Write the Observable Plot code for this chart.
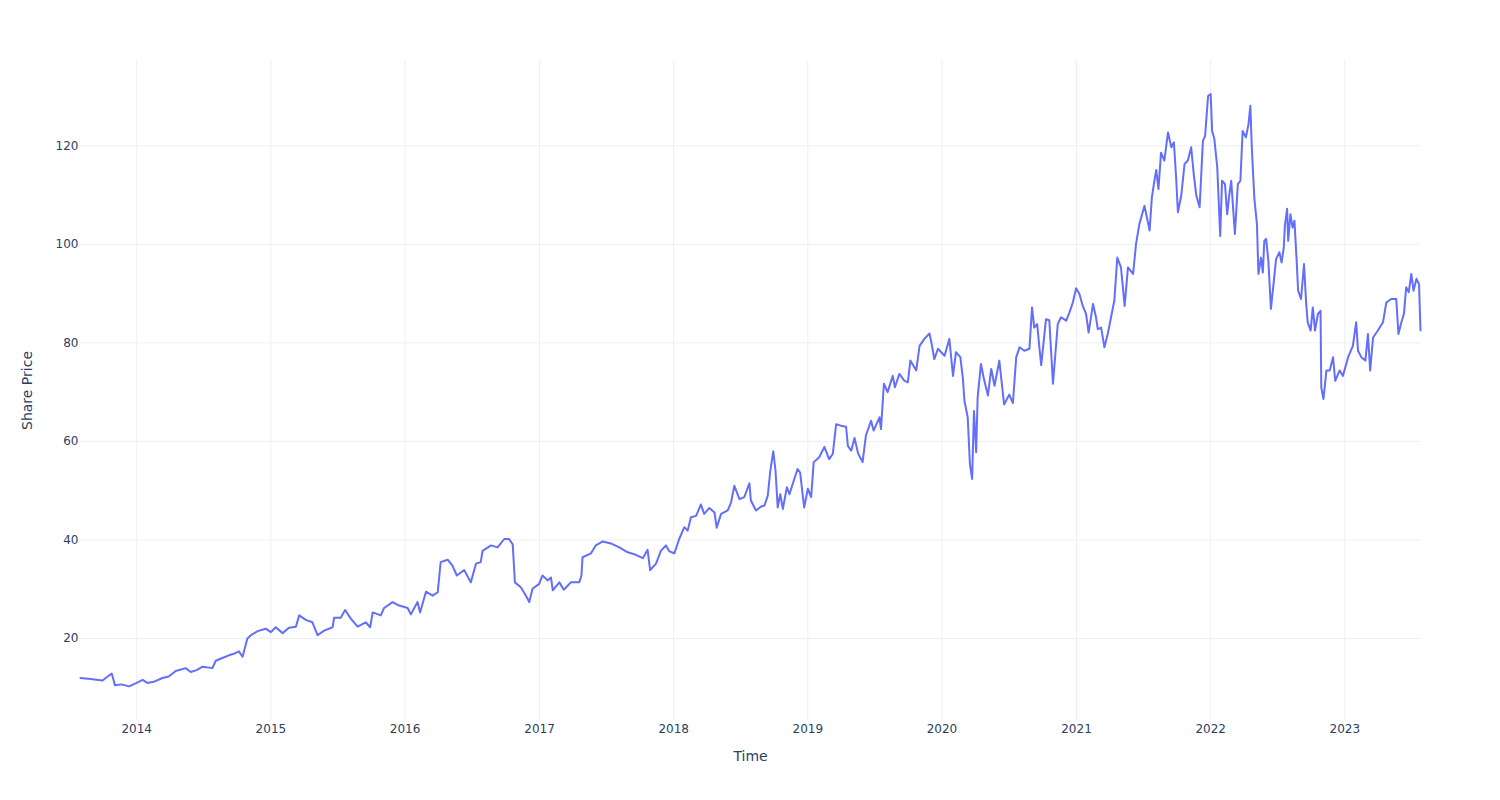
<!DOCTYPE html>
<html>
<head>
<meta charset="utf-8">
<script src="https://cdn.jsdelivr.net/npm/d3@7"></script>
<script src="https://cdn.jsdelivr.net/npm/@observablehq/plot@0.6"></script>
<style>
  html, body { margin: 0; padding: 0; background: #fff; }
  #chart { width: 1500px; height: 800px; }
</style>
</head>
<body>
<div id="chart"></div>
<script>
const dates = [
"2013-08-01","2013-08-28","2013-09-30","2013-10-14","2013-10-25","2013-11-03","2013-11-21","2013-12-11",
"2014-01-01","2014-01-17","2014-01-30","2014-02-19","2014-03-12","2014-03-29","2014-04-17","2014-05-14","2014-05-28","2014-06-13","2014-06-29","2014-07-26","2014-08-04","2014-08-20","2014-09-09","2014-09-22","2014-10-06","2014-10-16","2014-10-29","2014-11-10","2014-11-26","2014-12-18",
"2015-01-01","2015-01-14","2015-02-02","2015-02-19","2015-03-10","2015-03-19","2015-04-06","2015-04-24","2015-05-08","2015-05-26","2015-06-18","2015-06-22","2015-07-10","2015-07-22","2015-08-07","2015-08-25","2015-09-16","2015-09-28","2015-10-05","2015-10-27","2015-11-05","2015-11-28","2015-12-16",
"2016-01-08","2016-01-17","2016-02-04","2016-02-11","2016-02-27","2016-03-16","2016-03-30","2016-04-07","2016-04-26","2016-05-09","2016-05-21","2016-06-10","2016-06-28","2016-07-12","2016-07-25","2016-07-30","2016-08-22","2016-09-09","2016-09-27","2016-10-10","2016-10-20","2016-10-26","2016-11-11","2016-11-25","2016-12-04","2016-12-13","2016-12-31",
"2017-01-09","2017-01-23","2017-02-01","2017-02-06","2017-02-24","2017-03-08","2017-03-27","2017-04-19","2017-04-25","2017-04-28","2017-05-21","2017-06-03","2017-06-22","2017-07-14","2017-08-06","2017-08-29","2017-09-20","2017-10-09","2017-10-22","2017-10-29","2017-11-14","2017-11-27","2017-12-11","2017-12-20",
"2018-01-03","2018-01-16","2018-01-30","2018-02-08","2018-02-17","2018-03-03","2018-03-16","2018-03-25","2018-04-08","2018-04-22","2018-04-28","2018-05-10","2018-05-28","2018-06-06","2018-06-15","2018-06-29","2018-07-12","2018-07-26","2018-07-30","2018-08-13","2018-08-27","2018-09-05","2018-09-14","2018-09-21","2018-09-29","2018-10-05","2018-10-11","2018-10-18","2018-10-25","2018-11-05","2018-11-12","2018-11-21","2018-12-04","2018-12-11","2018-12-22",
"2019-01-01","2019-01-10","2019-01-17","2019-02-01","2019-02-15","2019-02-28","2019-03-10","2019-03-19","2019-04-01","2019-04-15","2019-04-20","2019-04-29","2019-05-08","2019-05-18","2019-05-30","2019-06-08","2019-06-22","2019-06-29","2019-07-15","2019-07-19","2019-07-27","2019-08-06","2019-08-20","2019-08-26","2019-09-07","2019-09-21","2019-09-30","2019-10-07","2019-10-23","2019-11-01","2019-11-14","2019-11-28","2019-12-05","2019-12-11","2019-12-21",
"2020-01-08","2020-01-21","2020-01-31","2020-02-08","2020-02-20","2020-02-27","2020-03-02","2020-03-11","2020-03-17","2020-03-23","2020-03-28","2020-04-03","2020-04-07","2020-04-16","2020-04-24","2020-05-05","2020-05-14","2020-05-23","2020-06-05","2020-06-18","2020-07-02","2020-07-12","2020-07-21","2020-07-30","2020-08-12","2020-08-26","2020-09-02","2020-09-08","2020-09-16","2020-09-22","2020-09-27","2020-10-10","2020-10-19","2020-10-29","2020-11-11","2020-11-20","2020-12-04","2020-12-13","2020-12-22","2020-12-31",
"2021-01-09","2021-01-18","2021-01-27","2021-02-03","2021-02-15","2021-02-23","2021-02-28","2021-03-09","2021-03-18","2021-03-27","2021-04-05","2021-04-14","2021-04-22","2021-05-02","2021-05-12","2021-05-21","2021-06-04","2021-06-12","2021-06-21","2021-07-05","2021-07-19","2021-07-25","2021-08-01","2021-08-06","2021-08-12","2021-08-19","2021-08-28","2021-09-07","2021-09-16","2021-09-23","2021-09-29","2021-10-04","2021-10-13","2021-10-22","2021-10-31","2021-11-09","2021-11-16","2021-11-23","2021-12-02","2021-12-11","2021-12-17","2021-12-25",
"2022-01-01","2022-01-05","2022-01-11","2022-01-19","2022-01-27","2022-02-01","2022-02-09","2022-02-15","2022-02-21","2022-02-26","2022-03-08","2022-03-16","2022-03-23","2022-03-29","2022-04-07","2022-04-14","2022-04-19","2022-04-23","2022-04-30","2022-05-07","2022-05-11","2022-05-18","2022-05-23","2022-05-27","2022-06-01","2022-06-07","2022-06-14","2022-06-22","2022-06-28","2022-07-07","2022-07-13","2022-07-19","2022-07-22","2022-07-28","2022-07-31","2022-08-06","2022-08-12","2022-08-17","2022-08-23","2022-08-27","2022-09-04","2022-09-12","2022-09-18","2022-09-22","2022-09-30","2022-10-06","2022-10-12","2022-10-20","2022-10-27","2022-10-29","2022-11-04","2022-11-12","2022-11-21","2022-11-30","2022-12-06","2022-12-18","2022-12-27",
"2023-01-10","2023-01-23","2023-02-01","2023-02-06","2023-02-15","2023-02-26","2023-03-05","2023-03-11","2023-03-19","2023-04-01","2023-04-15","2023-04-24","2023-05-07","2023-05-21","2023-05-27","2023-06-04","2023-06-11","2023-06-17","2023-06-24","2023-07-01","2023-07-07","2023-07-15","2023-07-22","2023-07-26"
];
const prices = [
12.0,11.8,11.5,12.3,12.9,10.5,10.7,10.3,
11.0,11.6,11.0,11.3,12.0,12.3,13.4,14.0,13.2,13.6,14.3,14.0,15.5,16.0,16.6,16.9,17.4,16.3,20.0,20.8,21.5,22.0,
21.3,22.3,21.1,22.2,22.4,24.7,23.8,23.3,20.7,21.6,22.3,24.2,24.2,25.8,24.0,22.4,23.3,22.3,25.3,24.7,26.2,27.4,26.7,
26.2,24.9,27.4,25.3,29.5,28.7,29.4,35.5,36.0,34.8,32.8,33.9,31.4,35.2,35.5,37.8,38.9,38.5,40.2,40.2,39.1,31.4,30.4,28.7,27.4,30.1,31.1,
32.8,31.8,32.4,29.8,31.4,29.9,31.4,31.4,32.8,36.5,37.3,38.9,39.7,39.3,38.5,37.5,37.0,36.3,38.0,33.9,35.2,37.8,38.9,37.7,
37.3,40.2,42.6,41.9,44.6,44.9,47.2,45.3,46.5,45.6,42.5,45.3,46.0,47.6,51.0,48.3,48.7,51.5,48.0,46.0,46.8,47.0,49.0,54.1,58.0,54.1,46.6,49.3,46.3,50.7,49.3,51.4,54.4,53.7,46.6,
50.4,48.7,55.8,56.8,58.9,56.4,57.5,63.5,63.2,63.0,59.1,58.1,60.7,57.5,55.8,61.2,64.2,62.2,64.9,62.5,71.7,70.0,73.3,71.0,73.7,72.3,72.0,76.4,74.4,79.4,80.8,81.9,79.4,76.7,78.8,
77.4,80.8,73.3,78.1,77.1,72.7,68.3,64.9,55.4,52.4,66.2,57.8,68.9,75.7,72.7,69.3,74.7,71.3,76.4,67.5,69.5,67.8,77.1,79.1,78.4,78.8,87.2,83.1,83.8,79.1,75.5,84.8,84.6,71.7,83.8,85.2,84.5,86.2,88.2,91.1,
89.9,87.5,85.9,82.1,87.9,85.2,82.8,83.1,79.1,81.8,85.2,88.6,97.3,95.3,87.5,95.3,94.0,100.1,104.1,107.8,102.8,109.5,112.9,115.1,111.2,118.6,117.0,122.7,119.7,120.7,113.6,106.5,109.9,116.3,117.0,119.7,114.3,109.9,107.5,121.0,122.0,130.1,
130.5,123.0,121.4,115.6,101.7,112.9,112.2,106.1,110.2,112.9,102.1,112.2,112.9,123.0,121.7,124.4,128.1,119.7,109.2,104.1,94.0,97.3,94.3,100.7,101.1,96.7,86.9,92.6,97.0,98.4,96.3,99.4,103.8,107.2,100.7,106.1,103.4,104.8,96.7,90.6,88.9,96.0,87.9,84.2,82.5,87.2,82.5,85.9,86.5,71.0,68.6,74.4,74.4,77.1,72.3,74.4,73.3,
77.1,79.4,84.2,78.4,77.1,76.4,81.8,74.4,81.1,82.5,84.2,88.2,88.9,88.9,81.8,84.2,85.9,91.3,90.3,94.0,90.6,93.0,91.9,82.5
];
const yTicks = [20, 40, 60, 80, 100, 120];
const xTickYears = ["2014","2015","2016","2017","2018","2019","2020","2021","2022","2023"];
const xTitle = "Time";
const yTitle = "Share Price";

const parse = d3.utcParse("%Y-%m-%d");
const data = dates.map((d, i) => ({date: parse(d), price: prices[i]}));
const xTicks = xTickYears.map(y => parse(y + "-01-01"));

const font = "'DejaVu Sans', Verdana, sans-serif";
const textColor = "#2a3f5f";
const gridColor = "#ebf0f8";

const chart = Plot.plot({
  width: 1500,
  height: 800,
  marginLeft: 80,
  marginRight: 80,
  marginTop: 60,
  marginBottom: 80,
  style: {fontFamily: font, fontSize: "12px", color: textColor, background: "#fff"},
  x: {type: "utc", domain: [data[0].date, data[data.length - 1].date]},
  y: {domain: [3.37, 137.3]},
  marks: [
    Plot.gridX(xTicks, {stroke: gridColor, strokeOpacity: 1, strokeWidth: 1}),
    Plot.gridY(yTicks, {stroke: gridColor, strokeOpacity: 1, strokeWidth: 1}),
    Plot.axisX(xTicks, {tickSize: 0, tickPadding: 4, tickFormat: d3.utcFormat("%Y"), label: null, fill: textColor, fontSize: 12}),
    Plot.axisY(yTicks, {tickSize: 0, tickPadding: 2, label: null, fill: textColor, fontSize: 12}),
    Plot.line(data, {x: "date", y: "price", stroke: "#636efa", strokeWidth: 2, strokeLinejoin: "round"}),
    Plot.text([xTitle], {frameAnchor: "bottom", dy: 36, text: d => d, fill: textColor, fontSize: 14, lineAnchor: "middle", textAnchor: "middle"}),
    Plot.text([yTitle], {frameAnchor: "left", dx: -53, rotate: -90, text: d => d, fill: textColor, fontSize: 14, lineAnchor: "middle", textAnchor: "middle"})
  ]
});
document.getElementById("chart").appendChild(chart);
</script>
</body>
</html>
